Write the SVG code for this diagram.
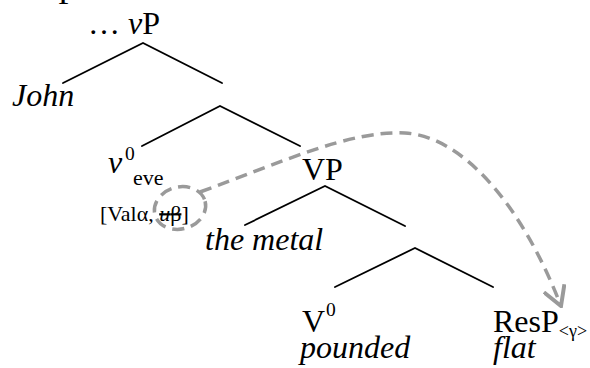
<svg xmlns="http://www.w3.org/2000/svg" width="590" height="368" viewBox="0 0 590 368">
<style>
.t{font-family:"Liberation Serif","Times New Roman",serif;font-size:32px;fill:#000}
.i{font-style:italic}
.s{font-size:22px}
.sup{font-size:19.5px}
.b{stroke:#000;stroke-width:1.8;fill:none;stroke-linecap:round}
.d{stroke:#9a9a9a;stroke-width:3.5;fill:none;stroke-dasharray:12 7}
</style>
<defs>
<marker id="ah" viewBox="0 0 22 24" refX="20" refY="12" markerWidth="22" markerHeight="24" markerUnits="userSpaceOnUse" orient="auto">
<path d="M1,1 L20,12 L1,23" fill="none" stroke="#9a9a9a" stroke-width="4"/>
</marker>
</defs>
<rect width="590" height="368" fill="#fff"/>
<g id="top-cut"><text class="t" x="58" y="4">P</text></g>
<g id="vP"><text class="t" x="88" y="34" font-size="29">… <tspan class="i">v</tspan>P</text></g>
<g id="john"><text class="t i" x="12" y="106">John</text></g>
<g id="v0"><text class="t" x="108" y="173"><tspan class="i">v</tspan></text><text class="t sup" x="125" y="160">0</text><text class="t s" x="133" y="185">eve</text></g>
<g id="features"><text class="t s" x="100" y="221">[Valα, <tspan text-decoration="line-through"><tspan class="i">u</tspan>β</tspan>]</text></g>
<g id="VP"><text class="t" x="302" y="180">VP</text></g>
<g id="metal"><text class="t i" x="205" y="250">the metal</text></g>
<g id="V0"><text class="t" x="302" y="332">V</text><text class="t sup" x="326" y="316">0</text><text class="t i" x="300" y="358">pounded</text></g>
<g id="ResP"><text class="t" x="493" y="332">ResP<tspan font-size="18" dy="5">&lt;γ&gt;</tspan></text><text class="t i" x="493" y="358">flat</text></g>
<g id="connectors">
<path class="b" d="M63,83 L143,43 L222,83"/>
<path class="b" d="M142,146 L220,106 L300,146"/>
<path class="b" d="M245,225 L325,186 L405,226"/>
<path class="b" d="M335,287 L415,248 L493,287"/>
<ellipse class="d" cx="180" cy="208" rx="26" ry="21" transform="rotate(-15 180 208)"/>
<path class="d" d="M200,192 C280,163 350,130 405,133 C460,136 520,200 561,306" marker-end="url(#ah)"/>
</g>
</svg>
